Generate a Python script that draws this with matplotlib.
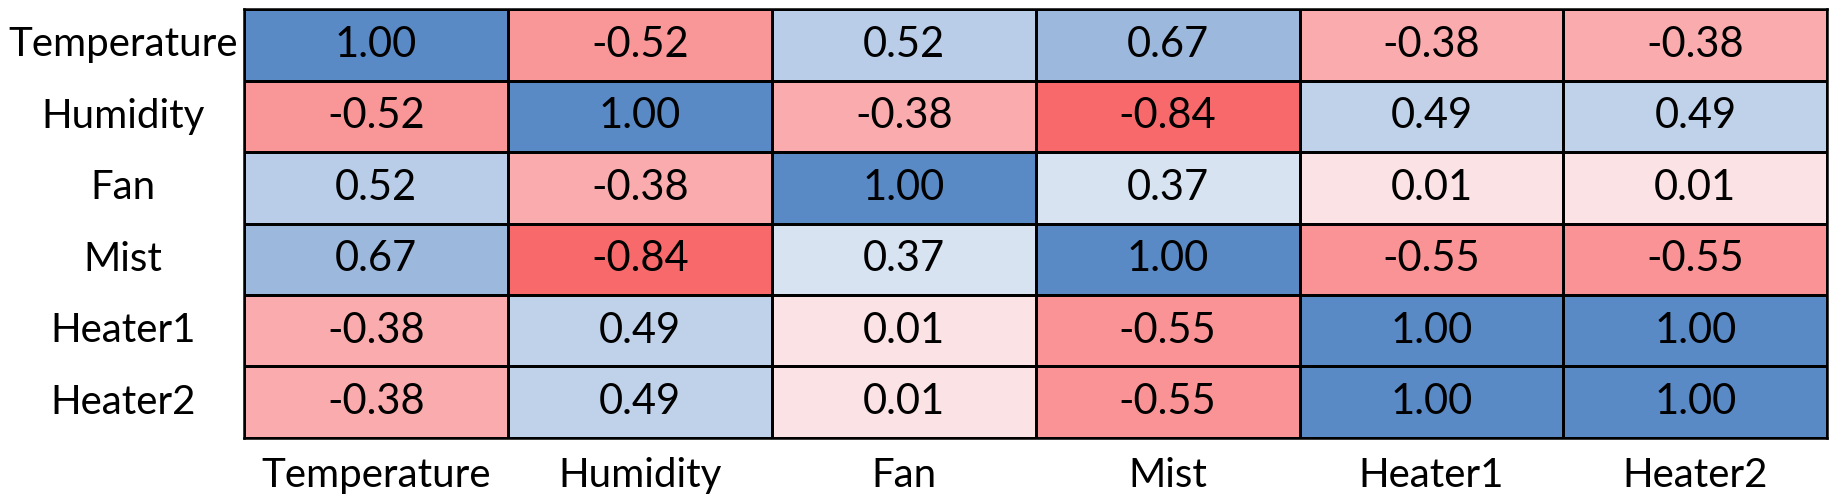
import numpy as np
import matplotlib.pyplot as plt
from matplotlib.colors import LinearSegmentedColormap, TwoSlopeNorm

# --- Data ---
labels = ['Temperature', 'Humidity', 'Fan', 'Mist', 'Heater1', 'Heater2']
corr = np.array([
    [1.00, -0.52, 0.52, 0.67, -0.38, -0.38],
    [-0.52, 1.00, -0.38, -0.84, 0.49, 0.49],
    [0.52, -0.38, 1.00, 0.37, 0.01, 0.01],
    [0.67, -0.84, 0.37, 1.00, -0.55, -0.55],
    [-0.38, 0.49, 0.01, -0.55, 1.00, 1.00],
    [-0.38, 0.49, 0.01, -0.55, 1.00, 1.00],
])

# Excel-style 3-colour scale (min red, median white, max blue)
cmap = LinearSegmentedColormap.from_list('excel', ['#F8696B', '#FCFCFF', '#5A8AC6'])
norm = TwoSlopeNorm(vmin=corr.min(), vcenter=np.median(corr), vmax=corr.max())

plt.rcParams['font.family'] = ['Lato', 'DejaVu Sans']

fig = plt.figure(figsize=(18.42, 5.04), dpi=100)
ax = fig.add_axes([0.1325, 0.131, 0.8595, 0.851])

n = len(labels)
ax.pcolormesh(np.arange(n + 1), np.arange(n + 1), corr, cmap=cmap, norm=norm,
              edgecolors='black', linewidth=1.8)
ax.set_xlim(0, n)
ax.set_ylim(n, 0)

for i in range(n):
    for j in range(n):
        ax.text(j + 0.5, i + 0.5, f'{corr[i, j]:.2f}', ha='center', va='center',
                fontsize=30, color='black')

ax.set_xticks(np.arange(n) + 0.5)
ax.set_xticklabels(labels, fontsize=29)
ax.set_yticks([])
ax.tick_params(axis='x', length=0, pad=14)

# row labels, centred in the left margin
for i, lab in enumerate(labels):
    ax.text(-0.46, i + 0.5, lab, ha='center', va='center', fontsize=29)

for s in ax.spines.values():
    s.set_linewidth(1.8)
    s.set_color('black')

fig.savefig('out.png', dpi=100, facecolor='white')
